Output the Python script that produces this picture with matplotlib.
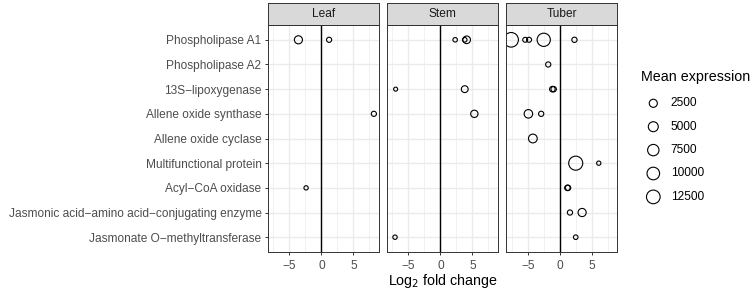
import numpy as np
import matplotlib
matplotlib.use("Agg")
import matplotlib.pyplot as plt

plt.rcParams['font.family'] = ['Liberation Sans', 'DejaVu Sans']

MINUS = "\u2212"
genes = [
    "Phospholipase A1",
    "Phospholipase A2",
    "13S" + MINUS + "lipoxygenase",
    "Allene oxide synthase",
    "Allene oxide cyclase",
    "Multifunctional protein",
    "Acyl" + MINUS + "CoA oxidase",
    "Jasmonic acid" + MINUS + "amino acid" + MINUS + "conjugating enzyme",
    "Jasmonate O" + MINUS + "methyltransferase",
]
tissues = ["Leaf", "Stem", "Tuber"]

# (gene index, log2 fold change, mean expression) per tissue
leaf_gene = [0, 0, 3, 6]
leaf_lfc = [-3.6, 1.2, 8.2, -2.4]
leaf_expr = [2500, 300, 300, 60]

stem_gene = [0, 0, 0, 2, 2, 3, 8]
stem_lfc = [2.3, 3.8, 4.1, -7.0, 3.8, 5.3, -7.1]
stem_expr = [100, 120, 2000, 20, 1300, 1700, 80]

tuber_gene = [0, 0, 0, 0, 0, 1, 2, 2, 3, 3, 4, 5, 5, 6, 6, 7, 7, 8]
tuber_lfc = [-7.6, -5.4, -4.8, -2.5, 2.3, -1.8, -1.15, -0.95, -4.9, -2.9,
             -4.2, 2.5, 6.1, 1.2, 1.3, 1.6, 3.5, 2.5]
tuber_expr = [15000, 220, 260, 11500, 350, 320, 500, 420, 3000, 330,
              3300, 13500, 60, 450, 400, 330, 2600, 120]

legend_breaks = [2500, 5000, 7500, 10000, 12500]

data = {
    "Leaf": (leaf_gene, leaf_lfc, leaf_expr),
    "Stem": (stem_gene, stem_lfc, stem_expr),
    "Tuber": (tuber_gene, tuber_lfc, tuber_expr),
}

W, H = 754, 291
LW = 0.8
FS_SMALL = 8.6
FS_TITLE = 10.3


def msize(v):
    # outer diameter in px grows with sqrt(expression) -> area in pt^2
    d_px = 4.7 + 0.09 * np.sqrt(np.asarray(v, dtype=float))
    d_pt = d_px * 0.72 - LW
    return d_pt ** 2


fig = plt.figure(figsize=(W / 100, H / 100), dpi=100)

panel_left = [267.7, 386.7, 506.0]
panel_w = 111.3
top_px, bot_px = 25.0, 252.0
strip_top = 2.5

dark = "#333333"
for i, t in enumerate(tissues):
    l = panel_left[i] / W
    ax = fig.add_axes([l, 1 - bot_px / H, panel_w / W, (bot_px - top_px) / H])
    g, x, e = data[t]
    ax.set_xlim(-8.4, 9.0)
    ax.set_ylim(len(genes) - 0.4, -0.6)
    ax.set_xticks([-5, 0, 5])
    ax.set_xticklabels([MINUS + "5", "0", "5"])
    ax.set_xticks([-7.5, -2.5, 2.5, 7.5], minor=True)
    ax.set_yticks(range(len(genes)))
    if i == 0:
        ax.set_yticklabels(genes)
    else:
        ax.set_yticklabels([])
    ax.grid(True, which='major', color='#EBEBEB', lw=1.0, zorder=0)
    ax.grid(True, which='minor', axis='x', color='#EBEBEB', lw=0.5, zorder=0)
    ax.set_axisbelow(True)
    ax.axvline(0, color='black', lw=1.0, zorder=2)
    ax.scatter(x, g, s=msize(e), facecolors='none', edgecolors='black',
               linewidths=LW, zorder=3)
    for sp in ax.spines.values():
        sp.set_color(dark)
        sp.set_linewidth(0.7)
        sp.set_zorder(4)
    ax.tick_params(which='major', axis='both', length=2.4, width=0.7, color=dark,
                   labelsize=FS_SMALL, labelcolor='#4D4D4D')
    ax.tick_params(axis='x', pad=3.2)
    ax.tick_params(axis='y', pad=2, length=2.4 if i == 0 else 0)
    ax.tick_params(which='minor', length=0)

    # facet strip
    sax = fig.add_axes([l, 1 - top_px / H, panel_w / W, (top_px - strip_top) / H])
    sax.set_xticks([])
    sax.set_yticks([])
    sax.set_facecolor('#D9D9D9')
    for sp in sax.spines.values():
        sp.set_color(dark)
        sp.set_linewidth(0.7)
    sax.text(0.5, 0.5, t, ha='center', va='center', fontsize=FS_SMALL,
             color='#1A1A1A', transform=sax.transAxes)

fig.text(442.4 / W, 1 - 281.5 / H, "Log$_2$ fold change", ha='center',
         va='center', fontsize=FS_TITLE, color='black')

# size legend
fig.text(641 / W, 1 - 76.7 / H, "Mean expression", ha='left', va='center',
         fontsize=FS_TITLE, color='black')
lax = fig.add_axes([0, 0, 1, 1], facecolor='none')
lax.set_xlim(0, W)
lax.set_ylim(H, 0)
lax.axis('off')
ly = [103.3 + 23.4 * k for k in range(len(legend_breaks))]
lax.scatter([653.3] * len(legend_breaks), ly, s=msize(legend_breaks),
            facecolors='none', edgecolors='black', linewidths=LW)
for yy, b in zip(ly, legend_breaks):
    lax.text(670.7, yy, str(b), ha='left', va='center', fontsize=FS_SMALL,
             color='black')

fig.savefig("out.png", dpi=100)
